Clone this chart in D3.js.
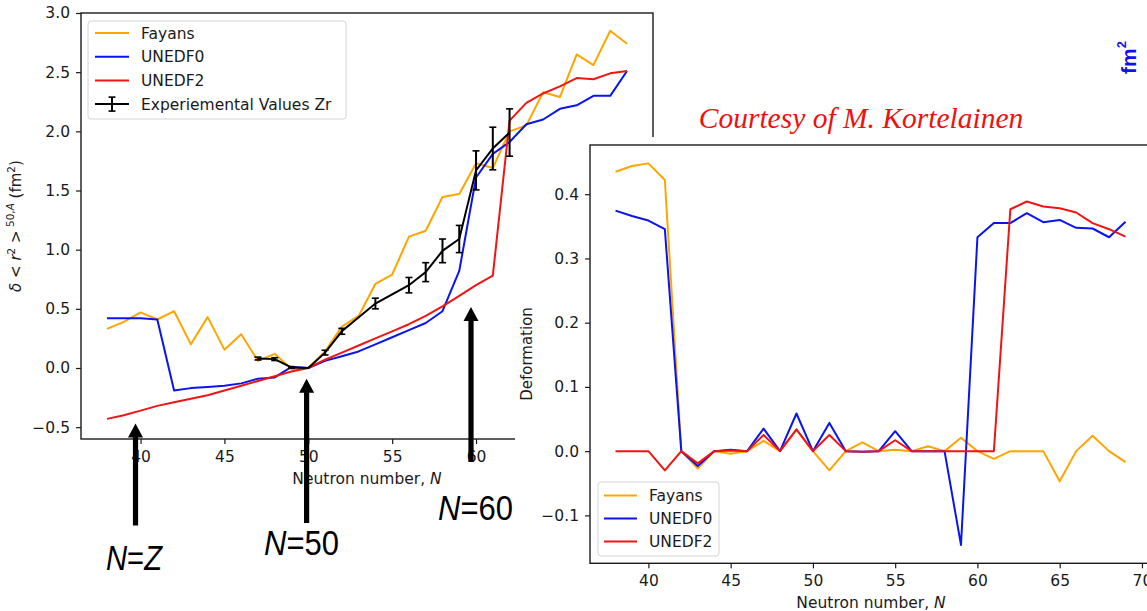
<!DOCTYPE html>
<html>
<head>
<meta charset="utf-8">
<script src="https://cdn.jsdelivr.net/npm/d3@7"></script>
<style>
  html, body { margin: 0; padding: 0; background: #fff; }
  svg { display: block; }
  text { font-family: "DejaVu Sans", sans-serif; fill: #1a1a1a; }
</style>
</head>
<body>
<svg id="fig" width="1147" height="611"></svg>
<script>
// ---- Neutron numbers shared by both panels ----
const neutrons = [38, 39, 40, 41, 42, 43, 44, 45, 46, 47, 48, 49, 50, 51, 52, 53,
                  54, 55, 56, 57, 58, 59, 60, 61, 62, 63, 64, 65, 66, 67, 68, 69];

// ---- Charge-radius shifts δ<r²>^(50,A) (fm²) ----
const fayansRadius = [0.33, 0.39, 0.47, 0.41, 0.48, 0.20, 0.43, 0.155, 0.285, 0.06, 0.12, -0.01,
                      0.00, 0.14, 0.35, 0.44, 0.71, 0.79, 1.11, 1.16, 1.445, 1.47, 1.73, 1.69,
                      2.00, 2.05, 2.33, 2.29, 2.65, 2.56, 2.85, 2.74];
const unedf0Radius = [0.42, 0.42, 0.42, 0.41, -0.19, -0.17, -0.16, -0.15, -0.13, -0.09, -0.08, 0.01,
                      0.00, 0.06, 0.10, 0.14, 0.20, 0.26, 0.32, 0.38, 0.48, 0.82, 1.61, 1.81,
                      1.91, 2.06, 2.10, 2.19, 2.22, 2.30, 2.30, 2.51];
const unedf2Radius = [-0.43, -0.40, -0.36, -0.32, -0.29, -0.26, -0.23, -0.19, -0.15, -0.11, -0.07, -0.03,
                      0.00, 0.07, 0.13, 0.19, 0.25, 0.31, 0.37, 0.44, 0.52, 0.61, 0.70, 0.78,
                      2.09, 2.24, 2.32, 2.38, 2.45, 2.44, 2.49, 2.51];

// ---- Measured Zr isotope shifts with uncertainties ----
const expNeutrons = [47, 48, 49, 50, 51, 52, 54, 56, 57, 58, 59, 60, 61, 62];
const expValues   = [0.08, 0.075, 0.005, 0.00, 0.13, 0.31, 0.545, 0.70, 0.81, 0.99, 1.09, 1.67, 1.855, 1.99];
const expErrors   = [0.012, 0.012, 0.006, 0.0, 0.02, 0.025, 0.045, 0.065, 0.08, 0.10, 0.115, 0.165, 0.18, 0.20];

// ---- Quadrupole deformation ----
const fayansDef = [0.435, 0.444, 0.448, 0.422, 0.0, -0.027, 0.0, -0.004, 0.0, 0.016, 0.0, 0.033,
                   0.0, -0.03, 0.0, 0.0135, 0.0, 0.002, 0.0, 0.0075, 0.0, 0.021, 0.0, -0.012,
                   0.0, 0.0, 0.0, -0.047, 0.0, 0.024, 0.0, -0.017];
const unedf0Def = [0.3745, 0.366, 0.359, 0.3455, 0.0, -0.023, 0.0, 0.002, 0.0, 0.035, 0.0, 0.0586,
                   0.0, 0.044, 0.0, -0.001, 0.0, 0.031, 0.0, 0.0, 0.0, -0.146, 0.333, 0.355,
                   0.355, 0.3705, 0.3565, 0.36, 0.3476, 0.3466, 0.333, 0.357];
const unedf2Def = [0.0, 0.0, 0.0, -0.03, 0.0, -0.019, 0.0, 0.001, 0.0, 0.025, 0.0, 0.034,
                   0.0, 0.025, 0.0, -0.001, 0.0, 0.017, 0.0, 0.0, 0.0, 0.0, 0.0, 0.0,
                   0.3766, 0.3886, 0.3808, 0.378, 0.3715, 0.355, 0.3455, 0.334];

// ---- Tick values ----
const radiusTicksY  = [-0.5, 0.0, 0.5, 1.0, 1.5, 2.0, 2.5, 3.0];
const radiusTicksX  = [40, 45, 50, 55, 60];
const defTicksY     = [-0.1, 0.0, 0.1, 0.2, 0.3, 0.4];
const defTicksX     = [40, 45, 50, 55, 60, 65, 70];

// ---- Shell-closure markers: N value, arrow tip and tail (fm²), label ----
const markerN     = [39.7, 49.9, 59.7];
const markerTip   = [-0.47, -0.09, 0.515];
const markerTail  = [-1.33, -1.31, -0.795];
const markerLabel = [["N", "=", "Z"], ["N", "=50", ""], ["N", "=60", ""]];

const seriesNames  = ["Fayans", "UNEDF0", "UNEDF2"];
const seriesColors = ["#ffa500", "#0a14f0", "#f01414"];

const svg = d3.select("#fig");
const minus = s => s.replace("-", "\u2212");
const fmt1 = d => minus(d3.format(".1f")(d));

// =================== Left panel: charge radii ===================
const xL = d3.scaleLinear().domain([36.45, 70.55]).range([81, 653]);
const yL = d3.scaleLinear().domain([-0.6, 3.0]).range([439, 13]);

const left = svg.append("g");
left.append("clipPath").attr("id", "clipL")
  .append("rect").attr("x", 81).attr("y", 13).attr("width", 572).attr("height", 426);

const plotL = left.append("g").attr("clip-path", "url(#clipL)");
const radiusSets = [fayansRadius, unedf0Radius, unedf2Radius];
radiusSets.forEach((vals, i) => {
  const line = d3.line().x((d, j) => xL(neutrons[j])).y(d => yL(d));
  plotL.append("path").datum(vals)
    .attr("d", line).attr("fill", "none")
    .attr("stroke", seriesColors[i]).attr("stroke-width", 2).attr("stroke-linejoin", "round");
});

// experimental points with error bars
const expLine = d3.line().x((d, j) => xL(expNeutrons[j])).y(d => yL(d));
plotL.append("path").datum(expValues).attr("d", expLine)
  .attr("fill", "none").attr("stroke", "#000").attr("stroke-width", 2);
expValues.forEach((v, j) => {
  const e = expErrors[j];
  if (e <= 0) return;
  const cx = xL(expNeutrons[j]);
  const g = plotL.append("g").attr("stroke", "#000");
  g.append("line").attr("x1", cx).attr("x2", cx).attr("y1", yL(v - e)).attr("y2", yL(v + e)).attr("stroke-width", 2);
  [v - e, v + e].forEach(w => g.append("line")
    .attr("x1", cx - 3.5).attr("x2", cx + 3.5).attr("y1", yL(w)).attr("y2", yL(w)).attr("stroke-width", 1.6));
});

// axes
const axL = left.append("g").attr("transform", "translate(81,0)")
  .call(d3.axisLeft(yL).tickValues(radiusTicksY).tickFormat(fmt1).tickSize(5).tickPadding(6));
const axB = left.append("g").attr("transform", "translate(0,439)")
  .call(d3.axisBottom(xL).tickValues(radiusTicksX).tickFormat(d3.format("d")).tickSize(5).tickPadding(7));
[axL, axB].forEach(a => {
  a.select(".domain").remove();
  a.selectAll("line").attr("stroke", "#1a1a1a").attr("stroke-width", 1.2);
  a.selectAll("text").style("font-size", "15.5px").attr("fill", "#1a1a1a").style("font-family", "DejaVu Sans");
});
left.append("rect").attr("x", 81).attr("y", 13).attr("width", 572).attr("height", 426)
  .attr("fill", "none").attr("stroke", "#1a1a1a").attr("stroke-width", 1.4);

// axis titles
const xtL = left.append("text").attr("x", 367).attr("y", 484).attr("text-anchor", "middle")
  .style("font-size", "15.5px");
xtL.append("tspan").text("Neutron number, ");
xtL.append("tspan").style("font-style", "italic").text("N");

const ytL = left.append("text").attr("transform", "translate(21,226) rotate(-90)")
  .attr("text-anchor", "middle").style("font-size", "15px");
ytL.append("tspan").style("font-style", "oblique").text("\u03b4");
ytL.append("tspan").text(" < ");
ytL.append("tspan").style("font-style", "oblique").text("r");
ytL.append("tspan").attr("dy", -6).style("font-size", "10.5px").text("2");
ytL.append("tspan").attr("dy", 6).text(" >");
ytL.append("tspan").attr("dy", -7).style("font-size", "10.5px").text(" 50,");
ytL.append("tspan").style("font-size", "10.5px").style("font-style", "oblique").text("A");
ytL.append("tspan").attr("dy", 7).text(" (fm");
ytL.append("tspan").attr("dy", -6).style("font-size", "10.5px").text("2");
ytL.append("tspan").attr("dy", 6).text(")");

// legend
const legL = left.append("g");
legL.append("rect").attr("x", 88).attr("y", 21).attr("width", 258).attr("height", 98).attr("rx", 3)
  .attr("fill", "#fff").attr("fill-opacity", 0.8).attr("stroke", "#d4d4d4");
const legNamesL = seriesNames.concat(["Experiemental Values Zr"]);
const legColorsL = seriesColors.concat(["#000"]);
legNamesL.forEach((name, i) => {
  const yy = 33 + i * 23.7;
  legL.append("line").attr("x1", 95).attr("x2", 129).attr("y1", yy).attr("y2", yy)
    .attr("stroke", legColorsL[i]).attr("stroke-width", 2);
  legL.append("text").attr("x", 141).attr("y", yy).attr("dy", "0.36em").style("font-size", "15.5px").text(name);
  if (i === 3) {
    legL.append("line").attr("x1", 112).attr("x2", 112).attr("y1", yy - 7).attr("y2", yy + 7).attr("stroke", "#000").attr("stroke-width", 2);
    [yy - 7, yy + 7].forEach(w => legL.append("line").attr("x1", 108.5).attr("x2", 115.5)
      .attr("y1", w).attr("y2", w).attr("stroke", "#000").attr("stroke-width", 1.6));
  }
});

// =================== Right panel: deformation ===================
svg.append("rect").attr("x", 515).attr("y", 137).attr("width", 632).attr("height", 474).attr("fill", "#fff");

const xR = d3.scaleLinear().domain([36.45, 70.55]).range([590, 1151]);
const yR = d3.scaleLinear().domain([-0.1746, 0.4766]).range([563.3, 145]);

const right = svg.append("g");
right.append("clipPath").attr("id", "clipR")
  .append("rect").attr("x", 590).attr("y", 145).attr("width", 561).attr("height", 418.3);
const plotR = right.append("g").attr("clip-path", "url(#clipR)");
[fayansDef, unedf0Def, unedf2Def].forEach((vals, i) => {
  const line = d3.line().x((d, j) => xR(neutrons[j])).y(d => yR(d));
  plotR.append("path").datum(vals).attr("d", line).attr("fill", "none")
    .attr("stroke", seriesColors[i]).attr("stroke-width", 2).attr("stroke-linejoin", "round");
});

const axLR = right.append("g").attr("transform", "translate(590,0)")
  .call(d3.axisLeft(yR).tickValues(defTicksY).tickFormat(fmt1).tickSize(5).tickPadding(6));
const axBR = right.append("g").attr("transform", "translate(0,563.3)")
  .call(d3.axisBottom(xR).tickValues(defTicksX).tickFormat(d3.format("d")).tickSize(5).tickPadding(7));
[axLR, axBR].forEach(a => {
  a.select(".domain").remove();
  a.selectAll("line").attr("stroke", "#1a1a1a").attr("stroke-width", 1.2);
  a.selectAll("text").style("font-size", "15.5px").attr("fill", "#1a1a1a").style("font-family", "DejaVu Sans");
});
right.append("rect").attr("x", 590).attr("y", 145).attr("width", 561).attr("height", 418.3)
  .attr("fill", "none").attr("stroke", "#1a1a1a").attr("stroke-width", 1.4);

const xtR = right.append("text").attr("x", 871).attr("y", 608).attr("text-anchor", "middle")
  .style("font-size", "15.5px");
xtR.append("tspan").text("Neutron number, ");
xtR.append("tspan").style("font-style", "italic").text("N");
right.append("text").attr("transform", "translate(532,354) rotate(-90)")
  .attr("text-anchor", "middle").style("font-size", "15px").text("Deformation");

const legR = right.append("g");
legR.append("rect").attr("x", 598).attr("y", 482).attr("width", 121).attr("height", 74).attr("rx", 3)
  .attr("fill", "#fff").attr("fill-opacity", 0.8).attr("stroke", "#d4d4d4");
seriesNames.forEach((name, i) => {
  const yy = 495.5 + i * 23;
  legR.append("line").attr("x1", 604).attr("x2", 637).attr("y1", yy).attr("y2", yy)
    .attr("stroke", seriesColors[i]).attr("stroke-width", 2);
  legR.append("text").attr("x", 649).attr("y", yy).attr("dy", "0.36em").style("font-size", "15.5px").text(name);
});

// =================== Slide annotations ===================
svg.append("text").attr("x", 861).attr("y", 128).attr("text-anchor", "middle")
  .style("font-family", "'Liberation Serif', 'Times New Roman', serif").style("font-style", "italic")
  .style("font-size", "29.5px").style("fill", "#f01010").text("Courtesy of M. Kortelainen");

const fm = svg.append("text").attr("transform", "translate(1136,74) rotate(-90)")
  .style("font-family", "'Liberation Sans', Arial, sans-serif").style("font-weight", "bold")
  .style("font-size", "21px").style("fill", "#1010f0");
fm.append("tspan").text("fm");
fm.append("tspan").attr("dy", -10).style("font-size", "13px").text("2");

// arrows marking N=Z, N=50 and N=60
const arrows = svg.append("g");
markerN.forEach((n, i) => {
  const x = xL(n), yt = yL(markerTip[i]), yb = yL(markerTail[i]);
  const hw = 7.5, hh = 14, sw = 2.6;
  const pts = [[x - sw, yb], [x - sw, yt + hh], [x - hw, yt + hh], [x, yt], [x + hw, yt + hh], [x + sw, yt + hh], [x + sw, yb]];
  arrows.append("path").attr("d", d3.line()(pts) + "Z").attr("fill", "#000");
});

// marker labels
const labelPos = [[106, 570, 56], [264, 555, 75], [438, 520, 75]];
markerLabel.forEach((parts, i) => {
  const [lx, ly, lw] = labelPos[i];
  const t = svg.append("text").attr("x", lx).attr("y", ly)
    .attr("textLength", lw).attr("lengthAdjust", "spacingAndGlyphs")
    .style("font-family", "'Liberation Sans Narrow', 'Liberation Sans', sans-serif")
    .style("font-size", "35px").style("fill", "#000");
  t.append("tspan").style("font-style", "italic").text(parts[0]);
  t.append("tspan").text(parts[1]);
  if (parts[2]) t.append("tspan").style("font-style", "italic").text(parts[2]);
});
</script>
</body>
</html>
